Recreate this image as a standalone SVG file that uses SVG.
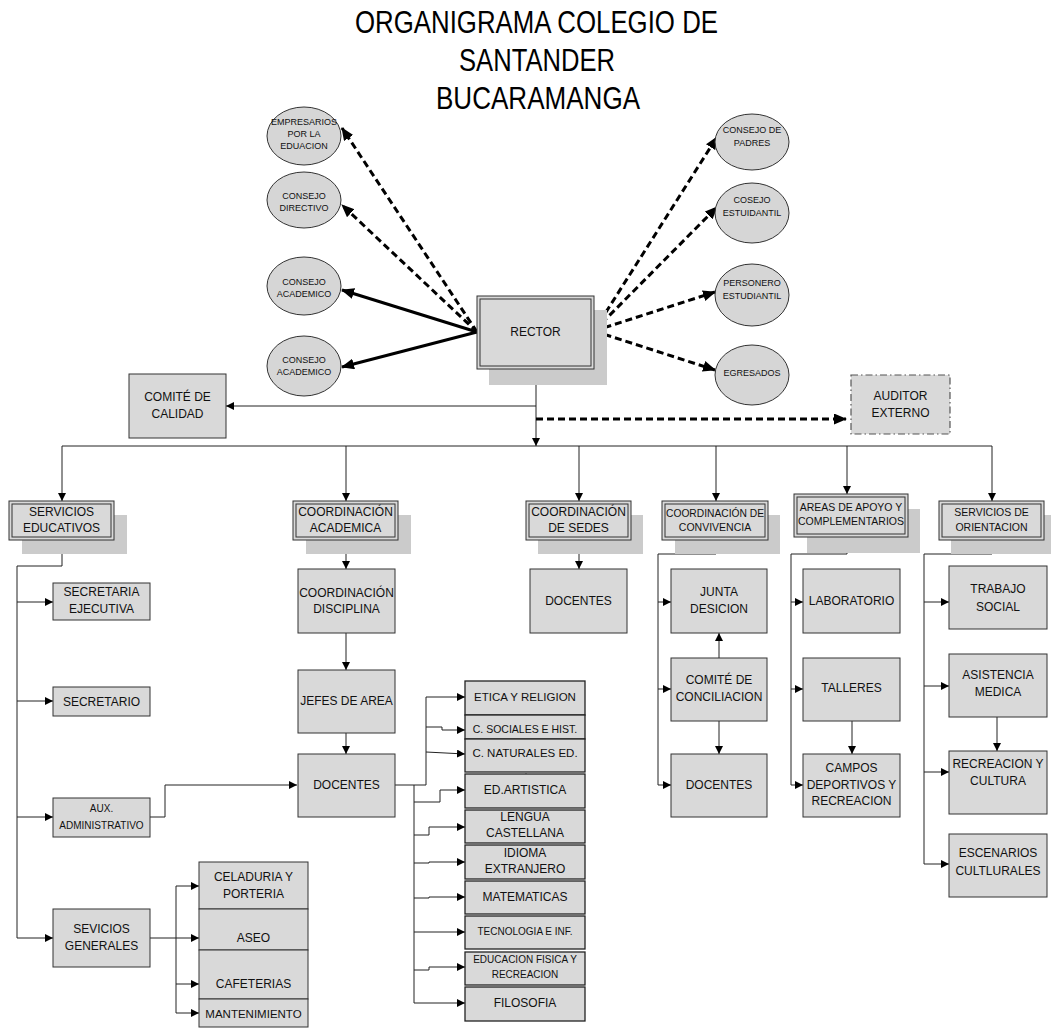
<svg xmlns="http://www.w3.org/2000/svg" width="1051" height="1032" viewBox="0 0 1051 1032">
<style>
.bx{fill:#d9d9d9;stroke:#333;stroke-width:1}
.sb{fill:#d9d9d9;stroke:#222;stroke-width:1.3}
.sh{fill:#cbcbcb}
.el{fill:#d6d6d6;stroke:#333;stroke-width:1}
.ad{fill:#d9d9d9;stroke:#555;stroke-width:1.2;stroke-dasharray:7,3,1.5,3}
.in{fill:none;stroke:#333;stroke-width:1}
.t{font-family:"Liberation Sans",Arial,sans-serif;font-size:12px;fill:#111;text-anchor:middle}
.s9{font-size:9px}
.s10{font-size:10px}
.s105{font-size:10.5px}
.s115{font-size:11.5px}
.ti{font-family:"Liberation Sans",Arial,sans-serif;font-size:32px;fill:#000;text-anchor:middle}
.ln{fill:none;stroke:#222;stroke-width:1}
.ar{marker-end:url(#a)}
.bd{fill:none;stroke:#000;stroke-width:3;stroke-dasharray:7,4;marker-end:url(#b)}
.bs{fill:none;stroke:#000;stroke-width:3;marker-end:url(#b)}
</style>
<defs>
<marker id="a" markerUnits="userSpaceOnUse" markerWidth="9" markerHeight="9" refX="8" refY="4" orient="auto"><path d="M0,0 L8,4 L0,8 z" fill="#000"/></marker>
<marker id="b" markerUnits="userSpaceOnUse" markerWidth="14" markerHeight="12" refX="12" refY="5.5" orient="auto"><path d="M0,0 L13,5.5 L0,11 z" fill="#000"/></marker>
</defs>
<rect width="1051" height="1032" fill="#fff"/>
<g id="title">
<text class="ti" x="536.5" y="33" textLength="363" lengthAdjust="spacingAndGlyphs">ORGANIGRAMA COLEGIO DE</text>
<text class="ti" x="537" y="71" textLength="156" lengthAdjust="spacingAndGlyphs">SANTANDER</text>
<text class="ti" x="538" y="109" textLength="204" lengthAdjust="spacingAndGlyphs">BUCARAMANGA</text>
</g>
<g id="connectors">
<path class="bd" d="M477,332 L342,128"/>
<path class="bd" d="M477,332 L342,205"/>
<path class="bs" d="M477,332 L342,290"/>
<path class="bs" d="M477,332 L342,367"/>
<path class="bd" d="M594,331 L717,137"/>
<path class="bd" d="M594,331 L717,207"/>
<path class="bd" d="M594,331 L715,292"/>
<path class="bd" d="M594,331 L715,370"/>
<path class="ln ar" d="M536,369 V446"/>
<path class="ln ar" d="M536,406 H226"/>
<path class="bd" d="M536,419 H846"/>
<path class="ln" d="M62,446 H992"/>
<path class="ln ar" d="M62,446 V501"/>
<path class="ln ar" d="M346,446 V501"/>
<path class="ln ar" d="M579,446 V501"/>
<path class="ln ar" d="M716,446 V501"/>
<path class="ln ar" d="M847,446 V494"/>
<path class="ln ar" d="M992,446 V501"/>
<path class="ln ar" d="M62,540 V566 H17 V938 H53"/>
<path class="ln ar" d="M17,602 H53"/>
<path class="ln ar" d="M17,701 H53"/>
<path class="ln ar" d="M17,817 H53"/>
<path class="ln ar" d="M150,817 H165 V785 H297"/>
<path class="ln" d="M150,938 H176 M176,886 V1013"/>
<path class="ln ar" d="M176,886 H199"/>
<path class="ln ar" d="M176,938 H199"/>
<path class="ln ar" d="M176,984 H199"/>
<path class="ln ar" d="M176,1013 H199"/>
<path class="ln ar" d="M346,540 V569"/>
<path class="ln ar" d="M346,633 V670"/>
<path class="ln ar" d="M346,733 V754"/>
<path class="ln ar" d="M395,785 H426 V697 H465"/>
<path class="ln ar" d="M426,727 H442 V730 H465"/>
<path class="ln ar" d="M426,752 L465,754"/>
<path class="ln ar" d="M414,785 V1003 H465"/>
<path class="ln ar" d="M414,802 H440 V790 H465"/>
<path class="ln ar" d="M414,835 H429 V827 H465"/>
<path class="ln ar" d="M414,863 H429 V862 H465"/>
<path class="ln ar" d="M414,898 H429 V897 H465"/>
<path class="ln ar" d="M414,932 H465"/>
<path class="ln ar" d="M414,970 H429 V967 H465"/>
<path d="M521,782 L526,773 L531,782 z" fill="#000"/>
<path class="ln ar" d="M579,540 V569"/>
<path class="ln ar" d="M716,540 V554 H658 V785 H671"/>
<path class="ln ar" d="M658,602 H671"/>
<path class="ln ar" d="M658,689 H671"/>
<path class="ln ar" d="M719,658 V633"/>
<path class="ln ar" d="M719,721 V754"/>
<path class="ln ar" d="M847,537 V554 H791 V785 H803"/>
<path class="ln ar" d="M791,602 H803"/>
<path class="ln ar" d="M791,689 H803"/>
<path class="ln ar" d="M852,721 V754"/>
<path class="ln ar" d="M992,540 V554 H924 V864 H949"/>
<path class="ln ar" d="M924,602 H949"/>
<path class="ln ar" d="M924,686 H949"/>
<path class="ln ar" d="M924,772 H949"/>
<path class="ln ar" d="M997,717 V751"/>
</g>
<g id="empresarios"><ellipse class="el" cx="304" cy="136" rx="37" ry="29"/><text class="t s9" x="304" y="125">EMPRESARIOS</text><text class="t s9" x="304" y="137">POR LA</text><text class="t s9" x="304" y="149">EDUACION</text></g>
<g id="consejo-directivo"><ellipse class="el" cx="304" cy="200" rx="37" ry="28"/><text class="t s9" x="304" y="199">CONSEJO</text><text class="t s9" x="304" y="211">DIRECTIVO</text></g>
<g id="consejo-academico-1"><ellipse class="el" cx="304" cy="286" rx="37" ry="29"/><text class="t s9" x="304" y="285">CONSEJO</text><text class="t s9" x="304" y="297">ACADEMICO</text></g>
<g id="consejo-academico-2"><ellipse class="el" cx="304" cy="366" rx="37" ry="30"/><text class="t s9" x="304" y="363">CONSEJO</text><text class="t s9" x="304" y="375">ACADEMICO</text></g>
<g id="consejo-padres"><ellipse class="el" cx="752" cy="142" rx="37" ry="28"/><text class="t s9" x="752" y="133">CONSEJO DE</text><text class="t s9" x="752" y="146">PADRES</text></g>
<g id="cosejo-estudiantil"><ellipse class="el" cx="752" cy="213" rx="37" ry="30"/><text class="t s9" x="752" y="203">COSEJO</text><text class="t s9" x="752" y="216">ESTUIDANTIL</text></g>
<g id="personero"><ellipse class="el" cx="752" cy="295" rx="37" ry="31"/><text class="t s9" x="752" y="286">PERSONERO</text><text class="t s9" x="752" y="299">ESTUDIANTIL</text></g>
<g id="egresados"><ellipse class="el" cx="752" cy="375" rx="37" ry="30"/><text class="t s9" x="752" y="376">EGRESADOS</text></g>
<g id="rector"><rect class="sh" x="489" y="310" width="118" height="75"/><rect class="bx" x="477" y="296" width="117" height="73"/><rect class="in" x="480" y="299" width="111" height="67"/><text class="t" x="535.5" y="336">RECTOR</text></g>
<g id="comite-calidad"><rect class="bx" x="129" y="374" width="97" height="64"/><text class="t" x="177.5" y="401">COMITÉ DE</text><text class="t" x="177.5" y="418">CALIDAD</text></g>
<g id="auditor"><rect class="ad" x="851" y="375" width="99" height="59"/><text class="t" x="900.5" y="400">AUDITOR</text><text class="t" x="900.5" y="417">EXTERNO</text></g>
<g id="servicios-educativos"><rect class="sh" x="22" y="515" width="105" height="39"/><rect class="bx" x="9" y="501" width="105" height="39"/><rect class="in" x="12" y="504" width="99" height="33"/><text class="t" x="61.5" y="516">SERVICIOS</text><text class="t" x="61.5" y="532">EDUCATIVOS</text></g>
<g id="coordinacion-academica"><rect class="sh" x="306" y="515" width="105" height="39"/><rect class="bx" x="293" y="501" width="105" height="39"/><rect class="in" x="296" y="504" width="99" height="33"/><text class="t" x="345.5" y="516">COORDINACIÓN</text><text class="t" x="345.5" y="532">ACADEMICA</text></g>
<g id="coordinacion-sedes"><rect class="sh" x="538" y="515" width="105" height="39"/><rect class="bx" x="526" y="501" width="105" height="39"/><rect class="in" x="529" y="504" width="99" height="33"/><text class="t" x="578.5" y="516">COORDINACIÓN</text><text class="t" x="578.5" y="532">DE SEDES</text></g>
<g id="coordinacion-convivencia"><rect class="sh" x="675" y="515" width="105" height="39"/><rect class="bx" x="662" y="501" width="106" height="39"/><rect class="in" x="665" y="504" width="100" height="33"/><text class="t s105" x="715" y="517" textLength="98" lengthAdjust="spacingAndGlyphs">COORDINACIÓN DE</text><text class="t s105" x="715" y="531">CONVIVENCIA</text></g>
<g id="areas-apoyo"><rect class="sh" x="807" y="509" width="113" height="44"/><rect class="bx" x="794" y="494" width="114" height="43"/><rect class="in" x="797" y="497" width="108" height="37"/><text class="t s105" x="851" y="511">AREAS DE APOYO Y</text><text class="t s105" x="851" y="525">COMPLEMENTARIOS</text></g>
<g id="servicios-orientacion"><rect class="sh" x="951" y="515" width="100" height="39"/><rect class="bx" x="939" y="501" width="105" height="39"/><rect class="in" x="942" y="504" width="99" height="33"/><text class="t s105" x="991.5" y="516">SERVICIOS DE</text><text class="t s105" x="991.5" y="531">ORIENTACION</text></g>
<g id="secretaria-ejecutiva"><rect class="bx" x="53" y="583" width="97" height="37"/><text class="t" x="101.5" y="596">SECRETARIA</text><text class="t" x="101.5" y="613">EJECUTIVA</text></g>
<g id="secretario"><rect class="bx" x="53" y="687" width="97" height="29"/><text class="t" x="101.5" y="706">SECRETARIO</text></g>
<g id="aux-administrativo"><rect class="bx" x="53" y="798" width="97" height="39"/><text class="t s10" x="101.5" y="812">AUX.</text><text class="t s10" x="101.5" y="829">ADMINISTRATIVO</text></g>
<g id="servicios-generales"><rect class="bx" x="53" y="909" width="97" height="58"/><text class="t" x="101.5" y="933">SEVICIOS</text><text class="t" x="101.5" y="950">GENERALES</text></g>
<g id="celaduria"><rect class="bx" x="199" y="862" width="109" height="47"/><text class="t" x="253.5" y="881">CELADURIA Y</text><text class="t" x="253.5" y="898">PORTERIA</text></g>
<g id="aseo"><rect class="bx" x="199" y="909" width="109" height="41"/><text class="t" x="253.5" y="942">ASEO</text></g>
<g id="cafeterias"><rect class="bx" x="199" y="950" width="109" height="49"/><text class="t" x="253.5" y="988">CAFETERIAS</text></g>
<g id="mantenimiento"><rect class="bx" x="199" y="999" width="109" height="28"/><text class="t s115" x="253.5" y="1018">MANTENIMIENTO</text></g>
<g id="coordinacion-disciplina"><rect class="bx" x="298" y="569" width="97" height="64"/><text class="t" x="346.5" y="597">COORDINACIÓN</text><text class="t" x="346.5" y="613">DISCIPLINA</text></g>
<g id="jefes-area"><rect class="bx" x="298" y="670" width="97" height="63"/><text class="t" x="346.5" y="705">JEFES DE AREA</text></g>
<g id="docentes-academica"><rect class="bx" x="298" y="754" width="97" height="63"/><text class="t" x="346.5" y="789">DOCENTES</text></g>
<g id="etica"><rect class="sb" x="465" y="681" width="120" height="34"/><text class="t s115" x="525" y="700.5">ETICA Y RELIGION</text></g>
<g id="sociales"><rect class="sb" x="465" y="715" width="120" height="24"/><text class="t s105" x="525" y="732.5">C. SOCIALES E HIST.</text></g>
<g id="naturales"><rect class="sb" x="465" y="739" width="120" height="33"/><text class="t s115" x="525" y="757">C. NATURALES ED.</text></g>
<g id="artistica"><rect class="sb" x="465" y="774" width="120" height="34"/><text class="t" x="525" y="794">ED.ARTISTICA</text></g>
<g id="lengua"><rect class="sb" x="465" y="810" width="120" height="33"/><text class="t" x="525" y="820.5">LENGUA</text><text class="t" x="525" y="837">CASTELLANA</text></g>
<g id="idioma"><rect class="sb" x="465" y="845" width="120" height="34"/><text class="t" x="525" y="856.5">IDIOMA</text><text class="t" x="525" y="873">EXTRANJERO</text></g>
<g id="matematicas"><rect class="sb" x="465" y="881" width="120" height="33"/><text class="t" x="525" y="900.5">MATEMATICAS</text></g>
<g id="tecnologia"><rect class="sb" x="465" y="916" width="120" height="33"/><text class="t s10" x="525" y="935">TECNOLOGIA E INF.</text></g>
<g id="educacion-fisica"><rect class="sb" x="465" y="952" width="120" height="33"/><text class="t s10" x="525" y="963">EDUCACION FISICA Y</text><text class="t s10" x="525" y="977.5">RECREACION</text></g>
<g id="filosofia"><rect class="sb" x="465" y="987" width="120" height="34"/><text class="t" x="525" y="1006.5">FILOSOFIA</text></g>
<g id="docentes-sedes"><rect class="bx" x="530" y="569" width="97" height="64"/><text class="t" x="578.5" y="605">DOCENTES</text></g>
<g id="junta-desicion"><rect class="bx" x="671" y="569" width="96" height="64"/><text class="t" x="719" y="596">JUNTA</text><text class="t" x="719" y="613">DESICION</text></g>
<g id="comite-conciliacion"><rect class="bx" x="671" y="658" width="96" height="63"/><text class="t" x="719" y="684">COMITÉ DE</text><text class="t" x="719" y="700.5">CONCILIACION</text></g>
<g id="docentes-convivencia"><rect class="bx" x="671" y="754" width="96" height="63"/><text class="t" x="719" y="789">DOCENTES</text></g>
<g id="laboratorio"><rect class="bx" x="803" y="569" width="97" height="64"/><text class="t" x="851.5" y="604.5">LABORATORIO</text></g>
<g id="talleres"><rect class="bx" x="803" y="658" width="97" height="63"/><text class="t" x="851.5" y="692">TALLERES</text></g>
<g id="campos"><rect class="bx" x="803" y="754" width="97" height="63"/><text class="t" x="851.5" y="772">CAMPOS</text><text class="t" x="851.5" y="789">DEPORTIVOS Y</text><text class="t" x="851.5" y="804.5">RECREACION</text></g>
<g id="trabajo-social"><rect class="bx" x="949" y="566" width="98" height="63"/><text class="t" x="998" y="593">TRABAJO</text><text class="t" x="998" y="610.5">SOCIAL</text></g>
<g id="asistencia-medica"><rect class="bx" x="949" y="654" width="98" height="63"/><text class="t" x="998" y="679">ASISTENCIA</text><text class="t" x="998" y="696">MEDICA</text></g>
<g id="recreacion-cultura"><rect class="bx" x="949" y="751" width="98" height="63"/><text class="t" x="998" y="768">RECREACION Y</text><text class="t" x="998" y="785">CULTURA</text></g>
<g id="escenarios"><rect class="bx" x="949" y="834" width="98" height="63"/><text class="t" x="998" y="857">ESCENARIOS</text><text class="t" x="998" y="874.5">CULTLURALES</text></g>
</svg>
